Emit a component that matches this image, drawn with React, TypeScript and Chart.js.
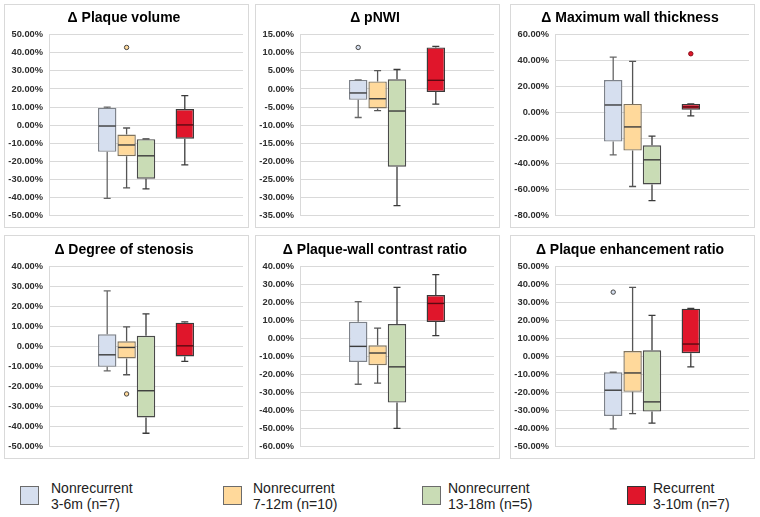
import React, { useEffect, useRef } from 'react';
import { Chart, registerables } from 'chart.js';

Chart.register(...registerables);

// ---- groups ----
const groupLine1 = ['Nonrecurrent', 'Nonrecurrent', 'Nonrecurrent', 'Recurrent'];
const groupLine2 = ['3-6m (n=7)', '7-12m (n=10)', '13-18m (n=5)', '3-10m (n=7)'];
const groupPositions = [3, 4, 5, 7];
const fillColors = ['#D6DFEF', '#FFD99B', '#C9DCB5', '#E0162B'];
const edgeColors = ['#7d828a', '#7f735e', '#4a4a4a', '#3a3a3a'];
const whiskerColors = ['#666666', '#555555', '#3a3a3a', '#3a3a3a'];

// ---- panels ----
const panelTitles = [
  'Δ Plaque volume',
  'Δ pNWI',
  'Δ Maximum wall thickness',
  'Δ Degree of stenosis',
  'Δ Plaque-wall contrast ratio',
  'Δ Plaque enhancement ratio',
];
const axisMin = [-50, -35, -80, -50, -60, -50];
const axisMax = [50, 15, 60, 40, 40, 50];
const axisStep = [10, 5, 20, 10, 10, 10];

// Δ Plaque volume (%)
const volumeMin = [-40.6, -34.7, -35.3, -22.0];
const volumeQ1 = [-14.8, -17.2, -29.7, -7.5];
const volumeMedian = [-0.5, -11.0, -17.0, 0.1];
const volumeQ3 = [9.5, -5.2, -7.8, 8.9];
const volumeMax = [10.0, -1.6, -7.6, 16.3];
const volumeOutliers = [[], [43.0], [], []];

// Δ pNWI (%)
const pnwiMin = [-7.9, -6.0, -32.3, -4.2];
const pnwiQ1 = [-3.0, -5.4, -21.5, -0.8];
const pnwiMedian = [-1.1, -2.7, -6.1, 2.4];
const pnwiQ3 = [2.5, 2.1, 2.7, 11.5];
const pnwiMax = [2.5, 5.1, 5.4, 11.8];
const pnwiOutliers = [[11.5], [], [], []];

// Δ Maximum wall thickness (%)
const mwtMin = [-33.1, -57.6, -68.6, -2.9];
const mwtQ1 = [-22.8, -29.7, -56.0, 2.0];
const mwtMedian = [5.6, -11.4, -36.9, 4.1];
const mwtQ3 = [24.9, 6.4, -25.6, 6.4];
const mwtMax = [42.7, 39.4, -18.6, 6.4];
const mwtOutliers = [[], [], [], [45.3]];

// Δ Degree of stenosis (%)
const stenosisMin = [-12.1, -14.1, -43.4, -7.4];
const stenosisQ1 = [-10.1, -5.9, -35.5, -4.9];
const stenosisMedian = [-4.1, -0.4, -22.1, 0.4];
const stenosisQ3 = [6.2, 2.7, 5.4, 12.0];
const stenosisMax = [27.9, 9.9, 16.4, 12.4];
const stenosisOutliers = [[], [-23.7], [], []];

// Δ Plaque-wall contrast ratio (%)
const contrastMin = [-25.4, -24.8, -50.0, 1.7];
const contrastQ1 = [-13.0, -14.8, -35.6, 9.3];
const contrastMedian = [-4.3, -8.0, -15.7, 19.6];
const contrastQ3 = [9.4, -3.7, 8.1, 24.3];
const contrastMax = [20.6, 5.9, 28.5, 35.6];
const contrastOutliers = [[], [], [], []];

// Δ Plaque enhancement ratio (%)
const enhanceMin = [-40.2, -31.7, -37.0, -5.7];
const enhanceQ1 = [-33.0, -19.6, -30.6, 1.9];
const enhanceMedian = [-18.7, -9.1, -25.2, 7.0];
const enhanceQ3 = [-8.7, 3.1, 3.5, 26.7];
const enhanceMax = [-8.7, 38.5, 23.0, 26.9];
const enhanceOutliers = [[35.9], [], [], []];

type Stats = {
  min: number[];
  q1: number[];
  med: number[];
  q3: number[];
  max: number[];
  out: number[][];
};

const panelStats: Stats[] = [
  { min: volumeMin, q1: volumeQ1, med: volumeMedian, q3: volumeQ3, max: volumeMax, out: volumeOutliers },
  { min: pnwiMin, q1: pnwiQ1, med: pnwiMedian, q3: pnwiQ3, max: pnwiMax, out: pnwiOutliers },
  { min: mwtMin, q1: mwtQ1, med: mwtMedian, q3: mwtQ3, max: mwtMax, out: mwtOutliers },
  { min: stenosisMin, q1: stenosisQ1, med: stenosisMedian, q3: stenosisQ3, max: stenosisMax, out: stenosisOutliers },
  { min: contrastMin, q1: contrastQ1, med: contrastMedian, q3: contrastQ3, max: contrastMax, out: contrastOutliers },
  { min: enhanceMin, q1: enhanceQ1, med: enhanceMedian, q3: enhanceQ3, max: enhanceMax, out: enhanceOutliers },
];

const panelLefts = [4, 255, 510];
const panelTops = [4, 235];
const PANEL_W = 245;
const PANEL_H = 224;

function BoxPanel({ index }: { index: number }) {
  const ref = useRef<HTMLCanvasElement>(null);
  const row = Math.floor(index / 3);
  const col = index % 3;

  useEffect(() => {
    const s = panelStats[index];
    const datasets: any[] = s.q1.map((q1, g) => ({
      type: 'bar',
      data: [{ x: groupPositions[g], y: [q1, s.q3[g]] }],
      backgroundColor: fillColors[g],
      borderColor: edgeColors[g],
      borderWidth: 1.4,
      borderSkipped: false,
      grouped: false,
      categoryPercentage: 1,
      barPercentage: 0.95,
    }));
    const outPts: { x: number; y: number }[] = [];
    const outFill: string[] = [];
    const outEdge: string[] = [];
    s.out.forEach((arr, g) =>
      arr.forEach((v) => {
        outPts.push({ x: groupPositions[g], y: v });
        outFill.push(fillColors[g]);
        outEdge.push(g === 3 ? '#8a0d18' : '#444444');
      })
    );
    datasets.push({
      type: 'scatter',
      data: outPts,
      pointBackgroundColor: outFill,
      pointBorderColor: outEdge,
      pointRadius: 2.2,
      pointBorderWidth: 1,
    });

    const whiskers = {
      id: 'whiskers',
      afterDatasetsDraw(chart: any) {
        const ctx = chart.ctx;
        const y = chart.scales.y;
        for (let g = 0; g < 4; g++) {
          const el = chart.getDatasetMeta(g).data[0];
          if (!el) continue;
          const cx = el.x;
          const hw = el.width / 2;
          const cap = 3.5;
          const yMin = y.getPixelForValue(s.min[g]);
          const yMax = y.getPixelForValue(s.max[g]);
          const yQ1 = y.getPixelForValue(s.q1[g]);
          const yQ3 = y.getPixelForValue(s.q3[g]);
          const yMed = y.getPixelForValue(s.med[g]);
          ctx.save();
          ctx.strokeStyle = whiskerColors[g];
          ctx.lineWidth = 1.3;
          ctx.beginPath();
          if (Math.abs(yMax - yQ3) > 0.5) {
            ctx.moveTo(cx, yQ3);
            ctx.lineTo(cx, yMax);
          }
          ctx.moveTo(cx - cap, yMax);
          ctx.lineTo(cx + cap, yMax);
          if (Math.abs(yMin - yQ1) > 0.5) {
            ctx.moveTo(cx, yQ1);
            ctx.lineTo(cx, yMin);
          }
          ctx.moveTo(cx - cap, yMin);
          ctx.lineTo(cx + cap, yMin);
          ctx.stroke();
          ctx.strokeStyle = g === 3 ? '#5a0a12' : '#3c3c3c';
          ctx.lineWidth = 1.4;
          ctx.beginPath();
          ctx.moveTo(cx - hw + 0.7, yMed);
          ctx.lineTo(cx + hw - 0.7, yMed);
          ctx.stroke();
          ctx.restore();
        }
      },
    };

    const chart = new Chart(ref.current as HTMLCanvasElement, {
      type: 'bar',
      data: { datasets },
      options: {
        animation: false,
        responsive: true,
        maintainAspectRatio: false,
        layout: { padding: { left: 0, right: 5, top: 0, bottom: 11 } },
        plugins: {
          legend: { display: false },
          tooltip: { enabled: false },
          title: {
            display: true,
            text: panelTitles[index],
            color: '#000000',
            font: { family: 'Arial, "Liberation Sans", sans-serif', size: 14, weight: 'bold' },
            padding: { top: row === 0 ? 5 : 6, bottom: row === 0 ? 8 : 8 },
          },
        },
        scales: {
          x: {
            type: 'linear',
            min: 0,
            max: 10,
            offset: false,
            display: false,
            ticks: { stepSize: 1 },
          },
          y: {
            type: 'linear',
            min: axisMin[index],
            max: axisMax[index],
            afterFit: (scale: any) => {
              scale.width = 44;
            },
            ticks: {
              stepSize: axisStep[index],
              padding: 6,
              color: '#2e2e2e',
              font: { family: 'Arial, "Liberation Sans", sans-serif', size: 9.3, weight: 'bold' },
              callback: (v: any) => Number(v).toFixed(2) + '%',
            },
            grid: { color: '#d9d9d9', lineWidth: 1, drawTicks: false },
            border: { display: true, color: '#d9d9d9' },
          },
        },
      } as any,
      plugins: [whiskers],
    });
    return () => chart.destroy();
  }, [index]);

  return (
    <div
      style={{
        position: 'absolute',
        left: panelLefts[col],
        top: panelTops[row],
        width: PANEL_W,
        height: PANEL_H,
        boxSizing: 'border-box',
        border: '1px solid #d9d9d9',
        background: '#ffffff',
      }}
    >
      <div style={{ position: 'relative', width: PANEL_W - 2, height: PANEL_H - 2 }}>
        <canvas ref={ref} />
      </div>
    </div>
  );
}

const legendSquareLefts = [20, 223, 422, 627];
const legendTextLefts = [51, 253, 448, 653];

export default function App() {
  return (
    <div
      style={{
        position: 'absolute',
        left: 0,
        top: 0,
        width: 760,
        height: 517,
        background: '#ffffff',
        overflow: 'hidden',
      }}
    >
      {panelTitles.map((_, i) => (
        <BoxPanel key={i} index={i} />
      ))}
      {groupLine1.map((l1, g) => (
        <React.Fragment key={g}>
          <div
            style={{
              position: 'absolute',
              left: legendSquareLefts[g],
              top: 486,
              width: 19,
              height: 19,
              boxSizing: 'border-box',
              background: fillColors[g],
              border: '1.5px solid ' + (g === 3 ? '#333333' : '#6b6b6b'),
            }}
          />
          <div
            style={{
              position: 'absolute',
              left: legendTextLefts[g],
              top: 480,
              fontFamily: 'Arial, "Liberation Sans", sans-serif',
              fontSize: 14,
              lineHeight: '16px',
              color: '#222222',
              whiteSpace: 'nowrap',
            }}
          >
            <div>{l1}</div>
            <div>{groupLine2[g]}</div>
          </div>
        </React.Fragment>
      ))}
    </div>
  );
}
